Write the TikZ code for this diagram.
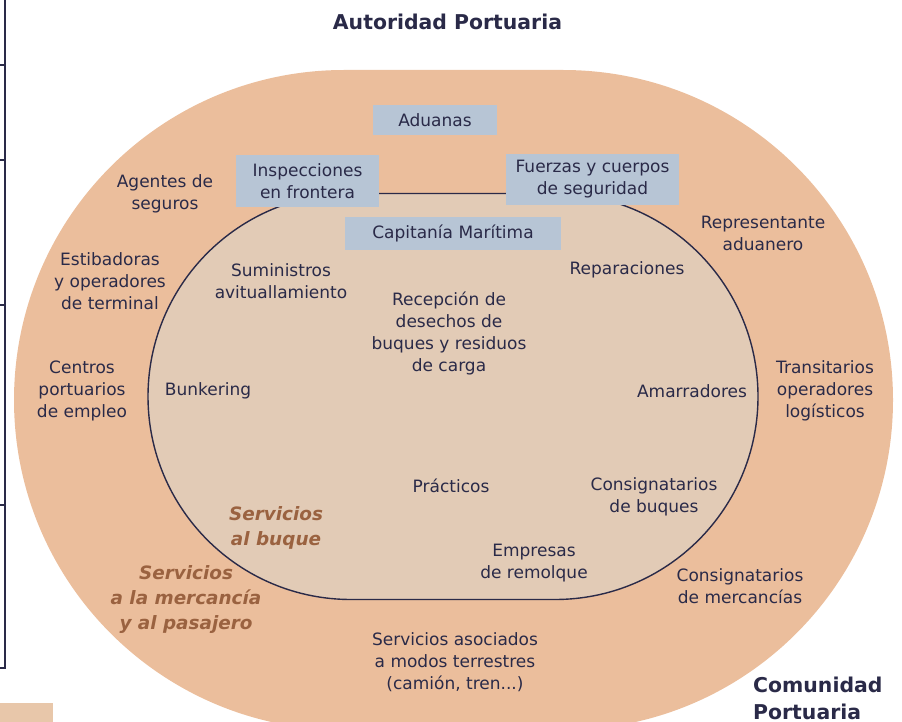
\documentclass[tikz,border=0pt]{standalone}
\usepackage{fontspec}
\setmainfont{DejaVu Sans}[ItalicFont={DejaVu Sans Oblique},BoldFont={DejaVu Sans Bold},BoldItalicFont={DejaVu Sans Bold Oblique}]
\definecolor{outerc}{HTML}{EBBE9C}
\definecolor{innerc}{HTML}{E2CBB6}
\definecolor{boxc}{HTML}{B7C5D5}
\definecolor{inkc}{HTML}{2A2A48}
\definecolor{brownc}{HTML}{9A6240}
\definecolor{tabc}{HTML}{E8C7AA}
\begin{document}
\begin{tikzpicture}[x=1pt,y=-1pt,
  lbl/.style={text=inkc, align=center, inner sep=0pt, font=\fontsize{17}{22}\selectfont},
  authbox/.style={lbl, fill=boxc},
  grp/.style={text=brownc, align=center, inner sep=0pt, font=\fontsize{18.4}{25}\selectfont\bfseries\itshape},
  ttl/.style={text=inkc, inner sep=0pt, font=\fontsize{20.4}{27}\selectfont\bfseries}]
\useasboundingbox (0,0) rectangle (902,722);
\clip (0,0) rectangle (902,722);
% table edge on the left
\draw[inkc, line width=1.2pt] (5,0) -- (5,668) -- (0,668);
\foreach \yy in {65,160,305,505}
  \draw[inkc, line width=1.2pt] (0,\yy) -- (5,\yy);
\fill[tabc] (0,703) rectangle (53,722);
% communities
\fill[outerc, rounded corners=330pt] (14,70) rectangle (893,730);
\filldraw[fill=innerc, draw=inkc, line width=1.4pt, rounded corners=203pt] (148,193.5) rectangle (758,599.5);
% authorities
\node[authbox, minimum width=124pt, minimum height=30pt] (aduanas) at (435,120) {Aduanas};
\node[authbox, minimum width=143pt, minimum height=52pt] (inspec) at (307.5,181) {Inspecciones\\en frontera};
\node[authbox, minimum width=173pt, minimum height=51pt] (fuerzas) at (592.5,179.5) {Fuerzas y cuerpos\\de seguridad};
\node[authbox, minimum width=216pt, minimum height=33pt] (capitania) at (453,233.5) {Capitanía Marítima};
% titles
\node[ttl] (autoridad) at (447.5,22) {Autoridad Portuaria};
\node[ttl, align=left, anchor=north west] (comunidad) at (753,677) {Comunidad\\Portuaria};
% outer ring
\node[lbl] (agentes) at (165,193.5) {Agentes de\\seguros};
\node[lbl] (estiba) at (110,281) {Estibadoras\\y operadores\\de terminal};
\node[lbl] (centros) at (82,391) {Centros\\portuarios\\de empleo};
\node[lbl] (repre) at (763,233.5) {Representante\\aduanero};
\node[lbl] (transit) at (825,391) {Transitarios\\operadores\\logísticos};
\node[lbl] (consmerc) at (740,586) {Consignatarios\\de mercancías};
\node[lbl] (terrestre) at (455,662) {Servicios asociados\\a modos terrestres\\(camión, tren...)};
\node[grp] (srvmerc) at (186,599.5) {Servicios\\a la mercancía\\y al pasajero};
% inner ring
\node[lbl] (suministros) at (281,281) {Suministros\\avituallamiento};
\node[lbl] (reparaciones) at (627,270) {Reparaciones};
\node[lbl] (recepcion) at (449,333) {Recepción de\\desechos de\\buques y residuos\\de carga};
\node[lbl] (bunkering) at (208,391) {Bunkering};
\node[lbl] (amarradores) at (692,391) {Amarradores};
\node[lbl] (practicos) at (451,486) {Prácticos};
\node[lbl] (consbuq) at (654,497) {Consignatarios\\de buques};
\node[lbl] (remolque) at (534,563.5) {Empresas\\de remolque};
\node[grp] (srvbuque) at (276,527.5) {Servicios\\al buque};
\end{tikzpicture}
\end{document}
